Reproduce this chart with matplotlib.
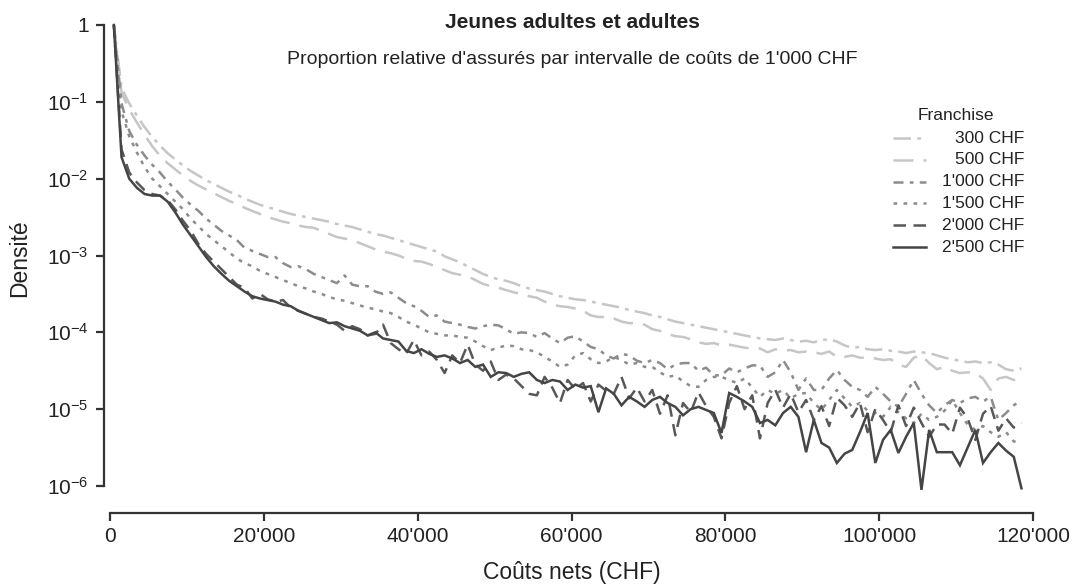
import matplotlib
matplotlib.use("Agg")
import matplotlib.pyplot as plt
import numpy as np
from matplotlib.lines import Line2D
from matplotlib.ticker import FuncFormatter

plt.rcParams['font.family'] = ['Liberation Sans', 'DejaVu Sans']
plt.rcParams['mathtext.fontset'] = 'custom'
plt.rcParams['mathtext.rm'] = 'Liberation Sans'
plt.rcParams['mathtext.it'] = 'Liberation Sans'

# ----------------------------- data (log10 density per 1'000 CHF bin) ---------
cost_k = np.arange(119) + 0.5  # bin centres in thousands of CHF

log_300 = [
    0.00, -0.82, -1.02, -1.18, -1.33, -1.46, -1.57, -1.67, -1.75, -1.83,
    -1.90, -1.96, -2.02, -2.07, -2.12, -2.17, -2.21, -2.26, -2.30, -2.34,
    -2.37, -2.40, -2.43, -2.46, -2.48, -2.50, -2.52, -2.54, -2.56, -2.59,
    -2.61, -2.63, -2.66, -2.69, -2.72, -2.74, -2.77, -2.80, -2.83, -2.86,
    -2.89, -2.92, -2.95, -3.01, -3.05, -3.09, -3.14, -3.19, -3.24, -3.28,
    -3.31, -3.33, -3.36, -3.40, -3.43, -3.45, -3.47, -3.50, -3.53, -3.55,
    -3.57, -3.58, -3.60, -3.62, -3.64, -3.66, -3.68, -3.71, -3.73, -3.75,
    -3.78, -3.80, -3.83, -3.86, -3.88, -3.90, -3.92, -3.94, -3.96, -3.98,
    -4.00, -4.02, -4.04, -4.06, -4.08, -4.09, -4.10, -4.08, -4.10, -4.12,
    -4.11, -4.13, -4.10, -4.09, -4.12, -4.17, -4.20, -4.19, -4.22, -4.23,
    -4.22, -4.24, -4.25, -4.27, -4.25, -4.26, -4.27, -4.30, -4.33, -4.35,
    -4.37, -4.39, -4.38, -4.40, -4.39, -4.42, -4.48, -4.50, -4.47,
]
log_500 = [
    0.00, -0.88, -1.10, -1.27, -1.43, -1.58, -1.70, -1.80, -1.88, -1.96,
    -2.03, -2.09, -2.14, -2.19, -2.24, -2.29, -2.33, -2.38, -2.42, -2.46,
    -2.50, -2.53, -2.56, -2.58, -2.61, -2.63, -2.64, -2.68, -2.72, -2.76,
    -2.78, -2.80, -2.84, -2.88, -2.92, -2.95, -2.97, -3.00, -3.04, -3.07,
    -3.08, -3.11, -3.15, -3.19, -3.23, -3.25, -3.27, -3.32, -3.37, -3.40,
    -3.42, -3.45, -3.48, -3.50, -3.53, -3.55, -3.60, -3.64, -3.66, -3.67,
    -3.69, -3.72, -3.78, -3.80, -3.80, -3.82, -3.86, -3.88, -3.88, -3.90,
    -3.96, -3.98, -4.02, -4.05, -4.06, -4.09, -4.13, -4.15, -4.14, -4.17,
    -4.16, -4.18, -4.20, -4.21, -4.21, -4.26, -4.22, -4.24, -4.23, -4.26,
    -4.25, -4.26, -4.28, -4.25, -4.32, -4.32, -4.30, -4.33, -4.33, -4.34,
    -4.36, -4.35, -4.42, -4.45, -4.33, -4.30, -4.40, -4.48, -4.45, -4.50,
    -4.53, -4.52, -4.53, -4.60, -4.75, -4.60, -4.58, -4.62, -4.58,
]
log_1000 = [
    0.00, -1.02, -1.38, -1.56, -1.70, -1.82, -1.92, -2.04, -2.14, -2.25,
    -2.34, -2.42, -2.52, -2.60, -2.68, -2.74, -2.80, -2.90, -2.94, -2.98,
    -3.02, -3.02, -3.10, -3.15, -3.14, -3.18, -3.24, -3.28, -3.32, -3.36,
    -3.26, -3.38, -3.40, -3.40, -3.47, -3.50, -3.48, -3.55, -3.62, -3.66,
    -3.72, -3.80, -3.78, -3.86, -3.88, -3.90, -3.93, -3.95, -3.92, -3.90,
    -3.91, -3.96, -4.02, -4.00, -4.01, -4.06, -4.01, -4.08, -4.14, -4.07,
    -4.05, -4.12, -4.19, -4.22, -4.30, -4.34, -4.28, -4.30, -4.37, -4.40,
    -4.36, -4.40, -4.48, -4.42, -4.40, -4.40, -4.50, -4.46, -4.56, -4.56,
    -4.47, -4.52, -4.47, -4.43, -4.43, -4.58, -4.52, -4.36, -4.52, -4.75,
    -4.60, -4.75, -4.75, -4.60, -4.49, -4.62, -4.71, -4.75, -4.84, -4.71,
    -4.80, -4.90, -4.97, -4.80, -4.62, -4.80, -4.95, -5.05, -4.95, -4.88,
    -4.92, -4.86, -4.84, -4.90, -4.84, -5.14, -5.05, -4.95, -4.88,
]
log_1500 = [
    0.00, -1.12, -1.45, -1.66, -1.85, -2.00, -2.10, -2.20, -2.30, -2.40,
    -2.52, -2.62, -2.72, -2.80, -2.88, -2.96, -3.04, -3.10, -3.14, -3.20,
    -3.24, -3.28, -3.32, -3.36, -3.40, -3.43, -3.47, -3.50, -3.54, -3.57,
    -3.59, -3.62, -3.65, -3.68, -3.70, -3.73, -3.75, -3.80, -3.86, -3.90,
    -3.95, -4.00, -4.02, -4.04, -4.04, -4.06, -4.07, -4.12, -4.18, -4.23,
    -4.20, -4.17, -4.18, -4.22, -4.23, -4.26, -4.32, -4.38, -4.45, -4.42,
    -4.30, -4.27, -4.35, -4.40, -4.38, -4.32, -4.36, -4.42, -4.40, -4.45,
    -4.45, -4.52, -4.58, -4.56, -4.64, -4.70, -4.71, -4.62, -4.58, -4.58,
    -4.62, -4.66, -4.60, -4.72, -4.84, -4.75, -4.80, -4.75, -4.86, -4.80,
    -4.79, -4.92, -5.01, -4.88, -4.75, -4.86, -4.97, -4.92, -5.02, -5.05,
    -5.10, -4.97, -5.04, -5.12, -5.18, -5.06, -5.14, -5.10, -5.02, -4.88,
    -5.05, -5.20, -5.27, -5.22, -5.30, -5.36, -5.30, -5.42, -5.44,
]
log_2000 = [
    0.00, -1.62, -1.92, -2.05, -2.15, -2.20, -2.22, -2.28, -2.40, -2.55,
    -2.68, -2.85, -2.98, -3.08, -3.18, -3.28, -3.38, -3.42, -3.56, -3.50,
    -3.57, -3.60, -3.58, -3.68, -3.72, -3.76, -3.80, -3.82, -3.86, -3.90,
    -3.98, -3.92, -3.96, -4.04, -4.02, -3.90, -4.14, -4.22, -4.28, -4.10,
    -4.30, -4.25, -4.36, -4.53, -4.30, -4.40, -4.16, -4.42, -4.50, -4.38,
    -4.62, -4.55, -4.60, -4.70, -4.80, -4.82, -4.58, -4.72, -4.92, -4.62,
    -4.74, -4.66, -4.90, -4.68, -4.76, -4.80, -4.58, -4.86, -4.72, -4.90,
    -4.75, -5.06, -4.82, -5.34, -4.92, -5.04, -4.78, -4.96, -5.10, -5.38,
    -4.92, -4.70, -5.00, -4.82, -5.38, -4.92, -4.75, -4.98, -4.80, -5.04,
    -4.88, -5.14, -4.96, -5.22, -4.85, -4.95, -5.10, -4.92, -5.30, -5.00,
    -5.14, -5.30, -4.95, -5.22, -4.98, -5.18, -5.36, -5.20, -5.20, -5.32,
    -4.98, -5.12, -5.40, -5.06, -4.96, -5.28, -5.12, -5.24, -5.18,
]
log_2500 = [
    0.00, -1.72, -2.00, -2.12, -2.20, -2.22, -2.22, -2.30, -2.44, -2.60,
    -2.74, -2.88, -3.02, -3.14, -3.24, -3.33, -3.40, -3.47, -3.53, -3.56,
    -3.58, -3.60, -3.64, -3.66, -3.72, -3.76, -3.80, -3.84, -3.88, -3.87,
    -3.92, -3.95, -3.98, -4.04, -4.00, -4.08, -4.10, -4.12, -4.24, -4.27,
    -4.22, -4.28, -4.32, -4.30, -4.34, -4.40, -4.36, -4.45, -4.42, -4.58,
    -4.52, -4.53, -4.58, -4.54, -4.52, -4.62, -4.66, -4.62, -4.64, -4.75,
    -4.68, -4.72, -4.70, -5.04, -4.73, -4.80, -4.95, -4.84, -4.90, -4.97,
    -4.88, -4.84, -4.92, -4.97, -5.08, -5.00, -4.97, -5.01, -5.05, -5.31,
    -4.79, -4.84, -4.90, -4.97, -5.18, -5.14, -5.21, -5.05, -4.97, -5.10,
    -5.56, -5.14, -5.44, -5.50, -5.70, -5.58, -5.53, -5.30, -5.05, -5.70,
    -5.40, -5.27, -5.57, -5.36, -5.18, -6.05, -5.27, -5.56, -5.56, -5.56,
    -5.73, -5.50, -5.27, -5.70, -5.56, -5.44, -5.54, -5.62, -6.03,
]

franchise_labels = ["300 CHF", "500 CHF", "1'000 CHF", "1'500 CHF", "2'000 CHF", "2'500 CHF"]
series = [log_300, log_500, log_1000, log_1500, log_2000, log_2500]

x_ticks = [0, 20000, 40000, 60000, 80000, 100000, 120000]
y_ticks = [1, 1e-1, 1e-2, 1e-3, 1e-4, 1e-5, 1e-6]
y_tick_labels = ['1', r'$10^{-1}$', r'$10^{-2}$', r'$10^{-3}$',
                 r'$10^{-4}$', r'$10^{-5}$', r'$10^{-6}$']

# ----------------------------- styles ----------------------------------------
colors = ['#c6c6c6', '#c6c6c6', '#8c8c8c', '#8c8c8c', '#585858', '#454545']
dashes = [(0, (7, 2.5, 1.5, 2.5)), (0, (8, 4)), (0, (4, 2.5, 1.5, 2.5)),
          (0, (1.5, 2.5)), (0, (5, 3)), '-']
lw = 1.8
txt = '#222222'

# ----------------------------- figure ----------------------------------------
fig = plt.figure(figsize=(10.73, 5.85), dpi=100)
W, H = 1073, 585
ax = fig.add_axes([104 / W, (H - 513) / H, (1040 - 104) / W, (513 - 20) / H])

x_cost = cost_k * 1000
for vals, col, ls in zip(series, colors, dashes):
    ax.plot(x_cost, 10 ** np.asarray(vals), color=col, linestyle=ls, linewidth=lw,
            solid_joinstyle='miter')

ax.set_yscale('log')
px_per_k = (1033 - 110) / 120.0
ax.set_xlim(-6 / px_per_k * 1000, 120000 + 7 / px_per_k * 1000)
px_per_dec = (486 - 25) / 6.0
ax.set_ylim(10 ** (-(513 - 25) / px_per_dec), 10 ** ((25 - 20) / px_per_dec))

ax.set_xticks(x_ticks)
ax.xaxis.set_major_formatter(FuncFormatter(lambda v, p: f"{int(v):,}".replace(",", "'")))
ax.set_yticks(y_ticks)
ax.set_yticklabels(y_tick_labels)
ax.minorticks_off()

for s in ['top', 'right']:
    ax.spines[s].set_visible(False)
ax.spines['left'].set_bounds(1e-6, 1)
ax.spines['bottom'].set_bounds(0, 120000)
for s in ['left', 'bottom']:
    ax.spines[s].set_color('#333333')
    ax.spines[s].set_linewidth(1.6)
ax.tick_params(axis='both', direction='out', length=6, width=1.6, color='#333333',
               labelsize=15, labelcolor=txt)
ax.tick_params(axis='x', pad=4)
ax.tick_params(axis='y', pad=5)

fig.text(20 / W, 1 - 258 / H, 'Densité', rotation=90, ha='center', va='center',
         fontsize=16.5, color=txt)
fig.text(572 / W, 1 - 573 / H, 'Coûts nets (CHF)', ha='center', va='center',
         fontsize=16.5, color=txt)

fig.text(572 / W, 1 - 23 / H, 'Jeunes adultes et adultes', ha='center', va='center',
         fontsize=15, fontweight='bold', color=txt)
fig.text(572 / W, 1 - 60 / H, "Proportion relative d'assurés par intervalle de coûts de 1'000 CHF",
         ha='center', va='center', fontsize=14, color=txt)

# ----------------------------- legend (R style, right-aligned labels) ---------
fig.text(956 / W, 1 - 115 / H, 'Franchise', ha='center', va='center',
         fontsize=12.5, color=txt)
for k, (lab, col, ls) in enumerate(zip(franchise_labels, colors, dashes)):
    yk = 1 - (138 + k * 21.8) / H
    fig.add_artist(Line2D([893 / W, 926 / W], [yk, yk], transform=fig.transFigure,
                          color=col, linestyle=ls, linewidth=lw))
    fig.text(1024 / W, yk, lab, ha='right', va='center', fontsize=12.5, color=txt)

fig.savefig('out.png', dpi=100)
